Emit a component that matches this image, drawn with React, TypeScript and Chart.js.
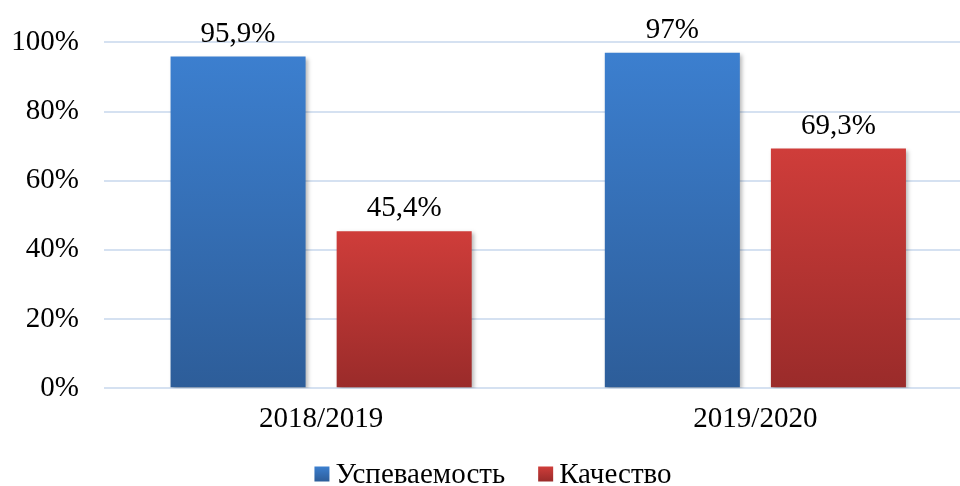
import React, { useEffect, useRef } from "react";
import { Chart, registerables } from "chart.js";

Chart.register(...registerables);

const categories = ["2018/2019", "2019/2020"];
const seriesNames = ["Успеваемость", "Качество"];
const uspevaemost = [95.9, 97];
const kachestvo = [45.4, 69.3];
const yTicks = [0, 20, 40, 60, 80, 100];

const FONT = "'Liberation Serif', 'Times New Roman', serif";
const FS = 29;
const palette = [
  { top: "#3c7fcf", bottom: "#2d5d99", legend: "#3a74c0" },
  { top: "#cf3d3a", bottom: "#9a2b2a", legend: "#c43a37" },
];

const fmt = (v: number) => String(v).replace(".", ",") + "%";

function gradientFor(ctx: any, idx: number) {
  const chart = ctx.chart;
  const area = chart.chartArea;
  const p = palette[idx];
  if (!area || ctx.type !== "data") return p.legend;
  const ys = chart.scales.y;
  const v = ctx.parsed ? ctx.parsed.y : ctx.raw;
  const yTop = ys.getPixelForValue(v);
  const yBot = ys.getPixelForValue(0);
  const g = chart.ctx.createLinearGradient(0, yTop, 0, yBot);
  g.addColorStop(0, p.top);
  g.addColorStop(1, p.bottom);
  return g;
}

const shadowPlugin = {
  id: "barShadow",
  beforeDatasetsDraw(chart: any) {
    const c = chart.ctx;
    c.save();
    c.shadowColor = "rgba(0,0,0,0.28)";
    c.shadowBlur = 4;
    c.shadowOffsetX = 2;
    c.shadowOffsetY = 2;
  },
  afterDatasetsDraw(chart: any) {
    chart.ctx.restore();
  },
};

const labelPlugin = {
  id: "valueLabels",
  afterDatasetsDraw(chart: any) {
    const c = chart.ctx;
    c.save();
    c.font = `${FS}px ${FONT}`;
    c.fillStyle = "#000";
    c.textAlign = "center";
    c.textBaseline = "alphabetic";
    chart.data.datasets.forEach((ds: any, i: number) => {
      const meta = chart.getDatasetMeta(i);
      meta.data.forEach((bar: any, j: number) => {
        c.fillText(fmt(ds.data[j]), bar.x, bar.y - 15);
      });
    });
    c.restore();
  },
};

const legendPlugin = {
  id: "customLegend",
  afterDraw(chart: any) {
    const c = chart.ctx;
    c.save();
    c.font = `${FS}px ${FONT}`;
    const box = 15;
    const gap = 6;
    const between = 33;
    const widths = seriesNames.map((n) => c.measureText(n).width);
    let total = 0;
    widths.forEach((w, i) => {
      total += box + gap + w + (i < widths.length - 1 ? between : 0);
    });
    let x = 493 - total / 2;
    const cy = 474;
    seriesNames.forEach((n, i) => {
      const g = c.createLinearGradient(0, cy - box / 2, 0, cy + box / 2);
      g.addColorStop(0, palette[i].top);
      g.addColorStop(1, palette[i].bottom);
      c.fillStyle = g;
      c.fillRect(x, cy - box / 2, box, box);
      x += box + gap;
      c.fillStyle = "#000";
      c.textBaseline = "middle";
      c.textAlign = "left";
      c.fillText(n, x, cy + 1);
      x += widths[i] + between;
    });
    c.restore();
  },
};

export default function App() {
  const ref = useRef<HTMLCanvasElement | null>(null);
  useEffect(() => {
    if (!ref.current) return;
    const chart = new Chart(ref.current, {
      type: "bar",
      data: {
        labels: categories,
        datasets: [
          {
            label: seriesNames[0],
            data: uspevaemost,
            backgroundColor: (ctx: any) => gradientFor(ctx, 0),
          },
          {
            label: seriesNames[1],
            data: kachestvo,
            backgroundColor: (ctx: any) => gradientFor(ctx, 1),
          },
        ],
      },
      options: {
        animation: false,
        responsive: false,
        devicePixelRatio: 1,
        layout: { padding: { top: 41, right: 7.5, bottom: 35, left: 0 } },
        datasets: {
          bar: { categoryPercentage: 0.765, barPercentage: 0.813 },
        },
        plugins: {
          legend: { display: false },
          tooltip: { enabled: false },
        },
        scales: {
          x: {
            grid: { display: false, drawTicks: false },
            border: { display: false },
            ticks: {
              color: "#000",
              font: { family: FONT, size: FS },
              padding: 14,
            },
          },
          y: {
            min: 0,
            max: 100,
            afterFit: (s: any) => {
              s.width = 104;
            },
            afterBuildTicks: (s: any) => {
              s.ticks = yTicks.map((v) => ({ value: v }));
            },
            grid: { color: "#d5e1f1", lineWidth: 2, drawTicks: false },
            border: { display: false },
            ticks: {
              color: "#000",
              padding: 25,
              font: { family: FONT, size: FS },
              callback: (v: any) => v + "%",
            },
          },
        },
      },
      plugins: [shadowPlugin, labelPlugin, legendPlugin],
    });
    return () => chart.destroy();
  }, []);
  return (
    <div
      style={{
        position: "fixed",
        left: 0,
        top: 0,
        width: 960,
        height: 486,
        overflow: "hidden",
        background: "#fff",
      }}
    >
      <canvas
        ref={ref}
        width={980}
        height={486}
        style={{ width: 980, height: 486, display: "block" }}
      />
    </div>
  );
}
